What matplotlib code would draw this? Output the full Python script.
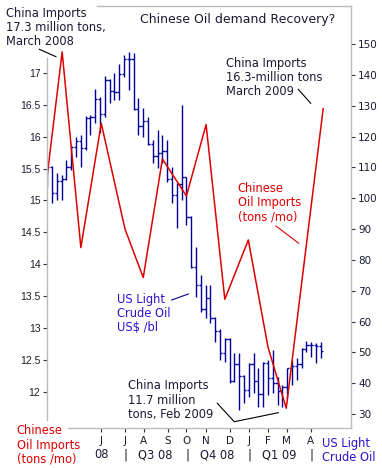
import matplotlib
matplotlib.use("Agg")
import numpy as np
import matplotlib.pyplot as plt
import matplotlib.transforms as mtransforms
from matplotlib.lines import Line2D

# Chinese monthly oil imports (million tons), placed on the weekly axis
imp_week = [0, 3.1, 7.0, 11.25, 16.2, 20.0, 24.0, 29.0, 33.1, 37.0, 41.9, 46.0, 49.8, 57.5]
imp_tons = [15.40, 17.33, 14.26, 16.21, 14.55, 13.79, 15.65, 15.07, 16.19, 13.45, 14.38, 12.70, 11.74, 16.44]

# US light crude weekly bars (US$ /bl), week 0 .. 57
oil_open = [105.0, 110.3, 101.8, 105.6, 106.2, 110.1, 116.7, 118.5, 116.3, 126.0,
            126.3, 132.2, 127.4, 138.5, 134.9, 134.6, 140.2, 145.3, 145.1, 128.9,
            123.3, 125.1, 117.5, 113.8, 114.6, 115.5, 106.2, 101.2, 104.6, 106.9,
            93.9, 77.7, 71.9, 64.2, 67.8, 61.0, 57.0, 49.9, 54.4, 40.8,
            46.3, 42.4, 37.7, 46.3, 40.8, 36.5, 46.5, 41.7, 40.2, 37.5,
            38.9, 44.8, 45.5, 46.3, 51.1, 52.4, 52.5, 52.2]
oil_high = [111.9, 110.5, 108.1, 107.6, 112.4, 117.3, 120.0, 120.6, 126.7, 127.1,
            135.4, 133.0, 139.7, 138.6, 140.6, 143.6, 146.5, 147.6, 147.1, 132.5,
            129.3, 126.5, 119.0, 122.2, 120.6, 119.0, 110.3, 104.9, 130.3, 107.0,
            94.2, 84.3, 75.1, 71.9, 71.9, 61.5, 57.5, 54.7, 54.6, 49.8,
            49.8, 42.6, 46.5, 49.8, 44.9, 46.9, 47.5, 50.8, 42.0, 39.4,
            45.0, 47.5, 48.1, 51.3, 53.7, 53.4, 52.9, 53.4]
oil_low = [103.8, 98.5, 99.5, 99.5, 105.9, 109.2, 113.5, 110.3, 115.7, 120.6,
           124.4, 121.1, 126.5, 130.9, 132.0, 132.0, 139.5, 135.2, 128.7, 120.6,
           120.0, 117.3, 111.4, 109.8, 111.4, 105.4, 98.4, 90.3, 99.5, 91.3,
           77.4, 68.1, 63.1, 61.1, 59.4, 53.5, 47.5, 47.0, 40.0, 40.5,
           31.3, 33.5, 35.6, 36.7, 32.4, 32.4, 36.2, 36.7, 32.9, 32.4,
           35.1, 39.4, 41.0, 44.9, 50.1, 48.5, 46.5, 48.2]
oil_close = [110.3, 101.8, 105.6, 106.2, 110.1, 116.7, 118.5, 116.3, 126.0, 126.3,
             132.2, 127.4, 138.5, 134.9, 134.6, 140.2, 145.3, 145.1, 128.9, 123.3,
             125.1, 117.5, 113.8, 114.6, 115.5, 106.2, 101.2, 104.6, 106.9, 93.9,
             77.7, 71.9, 64.2, 67.8, 61.0, 57.0, 49.9, 54.4, 40.8, 46.3,
             42.4, 37.7, 46.3, 40.8, 36.5, 46.5, 41.7, 40.2, 37.5, 38.9,
             44.8, 45.5, 46.3, 51.1, 52.4, 52.5, 52.2, 50.3]

left_ticks = [12, 12.5, 13, 13.5, 14, 14.5, 15, 15.5, 16, 16.5, 17]
left_labels = ['12', '12.5', '13', '13.5', '14', '14.5', '15', '15.5', '16', '16.5', '17']
right_ticks = [30, 40, 50, 60, 70, 80, 90, 100, 110, 120, 130, 140, 150]
month_pos = [11.3, 16.2, 20.1, 25.1, 29.0, 33.0, 38.0, 42.0, 45.9, 49.9, 54.9]
month_lbl = ['J', 'J', 'A', 'S', 'O', 'N', 'D', 'J', 'F', 'M', 'A']
quarter_pos = [11.3, 16.25, 22.6, 29.2, 35.5, 42.2, 48.3, 55.1]
quarter_lbl = ['08', '|', 'Q3 08', '|', 'Q4 08', '|', 'Q1 09', '|']

RED = '#DD0000'
NAVY = '#000099'
BLUE = '#3311CC'
DARK = '#1a1a33'
GRID = '#BBBBBB'

W, H = 382, 468
fig = plt.figure(figsize=(W / 100, H / 100), dpi=100)
fig.patch.set_facecolor('white')

ax = fig.add_axes([46.7 / W, 1 - 428 / H, (351 - 46.7) / W, (428 - 6) / H])
ax2 = ax.twinx()
ax.set_zorder(ax2.get_zorder() + 1)
ax.patch.set_visible(False)

# crude oil OHLC bars
weeks = np.arange(len(oil_close))
ax2.vlines(weeks, oil_low, oil_high, color=NAVY, lw=1.0)
ax2.hlines(oil_open, weeks - 0.45, weeks, color=NAVY, lw=1.0)
ax2.hlines(oil_close, weeks, weeks + 0.45, color=NAVY, lw=1.0)

# imports line
ax.plot(imp_week, imp_tons, color=RED, lw=1.1)

ax.set_xlim(-0.12, 63.3)
ax.set_ylim(11.43, 18.05)
ax2.set_ylim(25.46, 162.4)

for s in ['left', 'right', 'top', 'bottom']:
    ax2.spines[s].set_visible(False)
    ax.spines[s].set_color(GRID)
    ax.spines[s].set_linewidth(1.0)
ax2.spines['right'].set_visible(True)
ax2.spines['right'].set_color(GRID)
ax2.spines['right'].set_linewidth(1.0)
ax.spines['right'].set_visible(False)
ax.spines['left'].set_bounds(11.556, 17.235)
ax.spines['bottom'].set_bounds(4.3, 63.3)
ax.spines['top'].set_bounds(10.4, 63.3)

ax.set_yticks(left_ticks, left_labels)
ax.tick_params(axis='y', direction='out', length=3, width=0.8, color='#333333',
               pad=1.5, labelsize=7.5, labelcolor=DARK)
for lbl in ax.get_yticklabels():
    lbl.set_family('Liberation Sans')

ax2.set_yticks(right_ticks)
ax2.tick_params(axis='y', direction='out', length=3, width=0.8, color='#333333',
                pad=2, labelsize=7.5, labelcolor=DARK)

ax.set_xticks(month_pos, month_lbl)
ax.tick_params(axis='x', direction='out', length=3, width=0.8, color='#333333',
               pad=2.5, labelsize=7.5, labelcolor=DARK)

# quarter row under the months
trans = mtransforms.blended_transform_factory(ax.transData, fig.transFigure)
for xp, lb in zip(quarter_pos, quarter_lbl):
    ax.text(xp, 1 - 448.5 / H, lb, transform=trans, ha='center', va='top',
            fontsize=8.3, color=DARK, clip_on=False)


def fx(x):
    return x / W


def fy(y):
    return 1 - y / H


def note(x, y, s, color=DARK, size=8.3):
    fig.text(fx(x), fy(y), s, ha='left', va='top', fontsize=size, color=color,
             linespacing=1.12)


def leader(xs, ys, color='black'):
    fig.add_artist(Line2D([fx(v) for v in xs], [fy(v) for v in ys],
                          transform=fig.transFigure, color=color, lw=0.8))


fig.text(fx(140), fy(13), 'Chinese Oil demand Recovery?', ha='left', va='top',
         fontsize=9, color=DARK)

note(6, 7, 'China Imports\n17.3 million tons,\nMarch 2008')
leader([39.3, 56], [49.3, 56.7])

note(225.7, 57, 'China Imports\n16.3-million tons\nMarch 2009')
leader([298.3, 310.7], [89.3, 103.3])

note(237.7, 182, 'Chinese\nOil Imports\n(tons /mo)', color=RED)
leader([276, 298.7], [226, 243.3], color=RED)

note(116.7, 293, 'US Light\nCrude Oil\nUS$ /bl', color=BLUE)
leader([171.7, 188.3], [300, 294], color=NAVY)

note(128.3, 379.5, 'China Imports\n11.7 million\ntons, Feb 2009')
leader([217.3, 234.3, 278.3], [403.3, 421.7, 412.7])

note(16.7, 424.5, 'Chinese\nOil Imports\n(tons /mo)', color=RED)
note(322.3, 437, 'US Light\nCrude Oil', color=BLUE)

fig.savefig('out.png', dpi=100)
